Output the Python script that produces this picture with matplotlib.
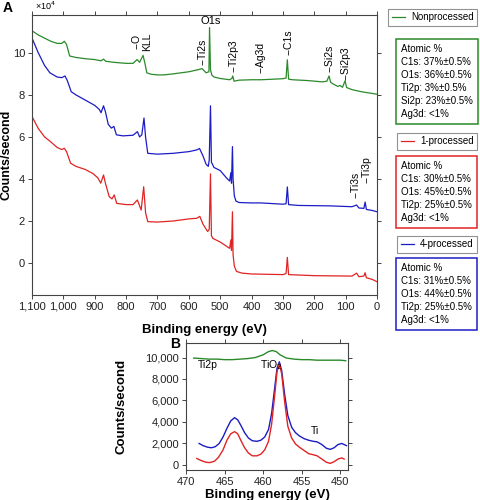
import matplotlib
matplotlib.use("Agg")
import matplotlib.pyplot as plt
from matplotlib.ticker import FuncFormatter, MultipleLocator

plt.rcParams['font.family'] = ['Liberation Sans', 'DejaVu Sans']
plt.rcParams['font.size'] = 8

# survey spectra (counts/second, x10^4)
green_e = [1100, 1080, 1060, 1040, 1020, 1005, 997, 990, 980, 960, 930, 900, 880, 872, 865, 840, 800,
           778, 765, 757, 746, 740, 734, 720, 700, 680, 650, 600, 570, 558, 545, 536, 534, 531, 527,
           520, 500, 470, 463, 460, 456, 440, 400, 370, 340, 300, 290, 286, 282, 270, 220, 175, 160,
           153, 148, 140, 125, 118, 110, 102, 97, 80, 50, 20, 0]
green_c = [11.05, 10.85, 10.7, 10.55, 10.45, 10.45, 10.55, 10.4, 9.85, 9.78, 9.72, 9.68, 9.62, 9.7,
           9.6, 9.55, 9.5, 9.5, 9.68, 9.55, 9.88, 9.5, 9.05, 8.98, 8.95, 8.95, 9.0, 9.1, 9.2, 9.25,
           9.05, 9.1, 11.2, 9.2, 8.95, 8.85, 8.78, 8.72, 8.78, 8.9, 8.65, 8.7, 8.72, 8.72, 8.74, 8.77,
           8.8, 9.67, 8.75, 8.72, 8.68, 8.62, 8.65, 8.9, 8.6, 8.52, 8.4, 8.45, 8.36, 8.67, 8.35, 8.25,
           8.15, 8.08, 8.03]

blue_e = [1100, 1080, 1060, 1043, 1020, 1005, 995, 988, 975, 960, 930, 900, 885, 880, 872, 866, 857,
          847, 839, 831, 810, 778, 764, 757, 750, 743, 738, 731, 700, 650, 600, 575, 566, 555, 545,
          538, 535, 531, 528, 520, 500, 480, 470, 466, 464, 461, 459, 455, 450, 440, 400, 370, 300,
          290, 286, 282, 250, 150, 80, 65, 58, 42, 38, 34, 15, 0]
blue_c = [10.7, 10.0, 9.4, 9.05, 8.85, 8.82, 8.9, 8.7, 8.15, 8.0, 7.75, 7.5, 7.3, 7.15, 7.48, 7.2,
          6.6, 6.42, 6.5, 6.1, 6.05, 6.08, 6.25, 6.0, 6.1, 6.9, 6.0, 5.22, 5.18, 5.22, 5.3, 5.38,
          5.45, 5.1, 4.7, 4.6, 4.9, 7.48, 4.8, 4.55, 4.4, 4.05, 3.9, 4.3, 3.8, 5.54, 4.0, 3.2, 2.95,
          2.88, 2.86, 2.86, 2.8, 2.82, 3.62, 2.78, 2.74, 2.72, 2.68, 2.76, 2.62, 2.6, 2.9, 2.55,
          2.5, 2.44]

red_e = [1100, 1080, 1060, 1043, 1020, 1005, 997, 990, 977, 960, 930, 905, 890, 881, 872, 866, 854,
         845, 838, 830, 800, 778, 764, 752, 744, 738, 731, 700, 650, 600, 575, 565, 555, 540, 535,
         531, 528, 523, 500, 470, 466, 464, 461, 459, 455, 448, 430, 400, 300, 290, 286, 282, 200,
         80, 65, 58, 42, 38, 34, 15, 0]
red_c = [6.97, 6.4, 6.0, 5.8, 5.5, 5.4, 5.46, 5.3, 4.75, 4.6, 4.45, 4.25, 4.05, 3.8, 4.19, 3.8,
         3.16, 3.05, 3.24, 2.84, 2.78, 2.78, 3.0, 2.52, 3.63, 2.4, 1.97, 1.95, 2.0, 2.1, 2.13, 2.22,
         1.85, 1.5, 1.6, 4.24, 1.3, 1.17, 1.0, 0.7, 1.1, 0.6, 2.44, 0.4, -0.15, -0.4, -0.48, -0.52,
         -0.55, -0.5, 0.27, -0.55, -0.6, -0.62, -0.48, -0.65, -0.62, -0.46, -0.7, -0.78, -0.89]

# peak labels: (text, energy, y of text bottom)
peak_labels = [("--O\nKLL", 750, 10.1), ("--Ti2s", 557, 9.4), ("--Ti2p3", 459, 9.1),
               ("--Ag3d", 370, 9.05), ("--C1s", 283, 9.9), ("--Si2s", 153, 9.1),
               ("--Si2p3", 102, 8.7), ("--Ti3s", 70, 3.1), ("--Ti3p", 35, 3.8)]

# high-resolution Ti2p region (counts/second)
hr_green_e = [469.0, 468.0, 467.0, 466.0, 465.0, 464.0, 463.0, 462.0, 461.0, 460.0, 459.3, 458.8,
              458.3, 457.8, 457.0, 456.0, 455.0, 454.0, 453.0, 452.0, 451.0, 450.0, 449.3]
hr_green_c = [9950, 9900, 9850, 9850, 9800, 9800, 9850, 9900, 10000, 10250, 10550, 10650,
              10550, 10250, 9950, 9850, 9800, 9800, 9750, 9750, 9750, 9750, 9700]

hr_blue_e = [468.3, 467.8, 467.2, 466.7, 466.2, 465.7, 465.2, 464.7, 464.2, 463.7, 463.3, 462.9,
             462.4, 461.9, 461.4, 460.8, 460.3, 459.8, 459.3, 458.9, 458.5, 458.2, 457.9, 457.6,
             457.2, 456.8, 456.3, 455.8, 455.3, 454.7, 454.1, 453.5, 453.0, 452.4, 451.8, 451.3,
             450.8, 450.3, 449.8, 449.2]
hr_blue_c = [2000, 1800, 1650, 1600, 1700, 2000, 2600, 3400, 4100, 4400, 4200, 3700, 3000, 2500,
             2250, 2200, 2300, 2600, 3300, 4800, 7200, 9000, 9600, 8800, 6500, 4600, 3500, 3000,
             2700, 2450, 2300, 2200, 2150, 1900, 1550, 1450, 1600, 1900, 2000, 1800]

hr_red_e = [468.6, 468.0, 467.4, 466.9, 466.3, 465.8, 465.2, 464.7, 464.2, 463.7, 463.3, 462.9,
            462.4, 461.9, 461.4, 460.8, 460.3, 459.8, 459.3, 458.9, 458.5, 458.2, 457.9, 457.6,
            457.2, 456.8, 456.3, 455.8, 455.3, 454.7, 454.1, 453.5, 453.0, 452.4, 451.8, 451.3,
            450.8, 450.3, 449.8, 449.5]
hr_red_c = [600, 400, 250, 220, 350, 700, 1400, 2300, 2900, 3100, 2900, 2300, 1600, 1100, 850,
            850, 1000, 1400, 2200, 3800, 6500, 8700, 9400, 8500, 5800, 3600, 2500, 1950, 1650,
            1350, 1050, 950, 850, 550, 250, 150, 300, 550, 650, 550]

comp_green = ["Atomic %", "C1s: 37%\u00b10.5%", "O1s: 36%\u00b10.5%", "Ti2p: 3%\u00b10.5%",
              "Si2p: 23%\u00b10.5%", "Ag3d: <1%"]
comp_red = ["Atomic %", "C1s: 30%\u00b10.5%", "O1s: 45%\u00b10.5%", "Ti2p: 25%\u00b10.5%",
            "Ag3d: <1%"]
comp_blue = ["Atomic %", "C1s: 31%\u00b10.5%", "O1s: 44%\u00b10.5%", "Ti2p: 25%\u00b10.5%",
             "Ag3d: <1%"]

GREEN = '#2a8a2a'
BLUE = '#1c1cc4'
RED = '#e02424'


def style_axes(ax):
    for sp in ax.spines.values():
        sp.set_color('#444444')
        sp.set_linewidth(0.8)
    ax.tick_params(which='both', top=True, right=True, labeltop=False, labelright=False,
                   direction='out', length=3, width=0.7, color='#444444', labelsize=8,
                   labelcolor='#222222', pad=2)


fig = plt.figure(figsize=(4.8, 5.0), dpi=100)

# ---- panel A ----
ax = fig.add_axes([0.0667, 0.41, 0.7188, 0.56])
l_green, = ax.plot(green_e, green_c, color=GREEN, lw=0.9)
l_blue, = ax.plot(blue_e, blue_c, color=BLUE, lw=0.9)
l_red, = ax.plot(red_e, red_c, color=RED, lw=0.9)
ax.set_xlim(1100, 0)
ax.set_ylim(-1.52, 11.8)
ax.xaxis.set_major_locator(MultipleLocator(100))
ax.yaxis.set_major_locator(MultipleLocator(2))
ax.xaxis.set_major_formatter(FuncFormatter(lambda v, p: f"{int(v):,}"))
style_axes(ax)
ax.set_xlabel("Binding energy (eV)", fontsize=9.5, fontweight='bold')
ax.xaxis.set_label_coords(0.5, -0.105)
ax.set_ylabel("Counts/second", fontsize=9, fontweight='bold')
ax.yaxis.set_label_coords(-0.057, 0.5)
ax.text(0.01, 1.012, "\u00d710$^4$", transform=ax.transAxes, fontsize=6.5, va='bottom')
ax.text(530, 11.3, "O1s", fontsize=8, ha='center', va='bottom')
for txt, e, yb in peak_labels:
    ax.text(e, yb, txt, rotation=90, fontsize=7.5, ha='center', va='bottom',
            multialignment='center', linespacing=1.0)
fig.text(0.005, 0.985, "A", fontsize=10, fontweight='bold', va='center')

# legend boxes and composition boxes (figure fractions of the box tops)
legend_y = [0.982, 0.734, 0.528]
comp_y = [0.912, 0.678, 0.474]
for line, name, comp, col, ly, cy in zip([l_green, l_red, l_blue],
                                         ["Nonprocessed", "1-processed", "4-processed"],
                                         [comp_green, comp_red, comp_blue],
                                         [GREEN, RED, BLUE], legend_y, comp_y):
    leg = fig.legend(handles=[line], labels=[name], loc='upper right',
                     bbox_to_anchor=(0.994, ly), fontsize=7, frameon=True, fancybox=False,
                     handlelength=1.4, handletextpad=0.6, borderpad=0.35, borderaxespad=0)
    leg.get_frame().set_edgecolor('#777777')
    leg.get_frame().set_linewidth(0.8)
    fig.text(0.836, cy, "\n".join(comp), fontsize=7, va='top', ha='left', linespacing=1.38,
             bbox=dict(boxstyle='square,pad=0.5', fc='white', ec=col, lw=1.1))

# ---- panel B ----
bx = fig.add_axes([0.3875, 0.06, 0.3375, 0.254])
bx.plot(hr_green_e, hr_green_c, color=GREEN, lw=1.0)
bx.plot(hr_blue_e, hr_blue_c, color=BLUE, lw=1.0)
bx.plot(hr_red_e, hr_red_c, color=RED, lw=1.0)
bx.set_xlim(470, 449)
bx.set_ylim(-470, 11350)
bx.xaxis.set_major_locator(MultipleLocator(5))
bx.yaxis.set_major_locator(MultipleLocator(2000))
bx.yaxis.set_major_formatter(FuncFormatter(lambda v, p: f"{int(v):,}"))
style_axes(bx)
bx.set_xlabel("Binding energy (eV)", fontsize=9.5, fontweight='bold')
bx.xaxis.set_label_coords(0.5, -0.15)
bx.set_ylabel("Counts/second", fontsize=9.5, fontweight='bold')
bx.yaxis.set_label_coords(-0.36, 0.5)
bx.text(468.5, 9300, "Ti2p", fontsize=7.5, va='center')
bx.text(460.4, 9300, "TiO$_2$", fontsize=7.5, va='center')
bx.text(453.8, 2700, "Ti", fontsize=7.5, va='bottom')
fig.text(0.355, 0.312, "B", fontsize=10, fontweight='bold', va='center')

fig.savefig("out.png", dpi=100)
